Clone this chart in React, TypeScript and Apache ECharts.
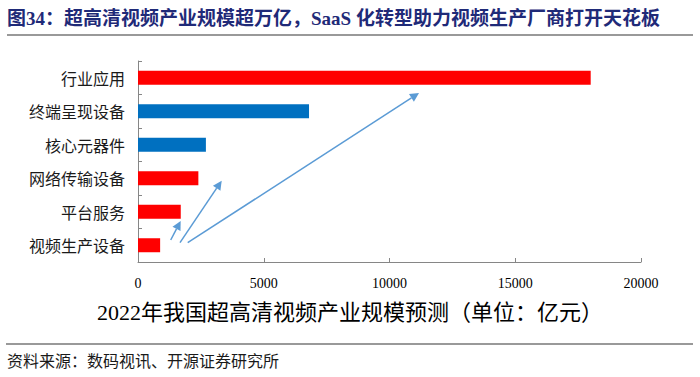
import React, { useEffect, useRef } from "react";
import * as echarts from "echarts";

const categories = ["视频生产设备", "平台服务", "网络传输设备", "核心元器件", "终端呈现设备", "行业应用"];
const values = [880, 1700, 2400, 2700, 6800, 18000];
const barColors = ["#FF0000", "#FF0000", "#FF0000", "#0070C0", "#0070C0", "#FF0000"];
const xMin = 0;
const xMax = 20000;
const xInterval = 5000;

const titleText = "图34：超高清视频产业规模超万亿，SaaS 化转型助力视频生产厂商打开天花板";
const axisNameText = "2022年我国超高清视频产业规模预测（单位：亿元）";
const sourceText = "资料来源：数码视讯、开源证券研究所";

const arrowColor = "#5B9BD5";

function arrow(x1: number, y1: number, x2: number, y2: number) {
  const dx = x2 - x1;
  const dy = y2 - y1;
  const len = Math.sqrt(dx * dx + dy * dy);
  const ux = dx / len;
  const uy = dy / len;
  const headLen = 9;
  const headHalf = 4.5;
  const bx = x2 - ux * headLen;
  const by = y2 - uy * headLen;
  const px = -uy;
  const py = ux;
  return [
    {
      type: "line",
      shape: { x1, y1, x2: bx, y2: by },
      style: { stroke: arrowColor, lineWidth: 1.5 },
      silent: true,
    },
    {
      type: "polygon",
      shape: {
        points: [
          [x2, y2],
          [bx + px * headHalf, by + py * headHalf],
          [bx - px * headHalf, by - py * headHalf],
        ],
      },
      style: { fill: arrowColor },
      silent: true,
    },
  ];
}

export default function App() {
  const ref = useRef<HTMLDivElement>(null);
  useEffect(() => {
    if (!ref.current) return;
    const chart = echarts.init(ref.current, null, { renderer: "svg" });
    const serifCJK = "'Liberation Serif', 'Times New Roman', 'Noto Sans CJK SC', serif";
    chart.setOption({
      animation: false,
      backgroundColor: "#FFFFFF",
      grid: { left: 138, right: 59, top: 61, bottom: 115, containLabel: false },
      xAxis: {
        type: "value",
        min: xMin,
        max: xMax,
        interval: xInterval,
        splitLine: { show: false },
        axisLine: { show: true, lineStyle: { color: "#868686", width: 1 } },
        axisTick: { show: true, inside: true, length: 4, lineStyle: { color: "#868686" } },
        axisLabel: {
          color: "#000",
          fontSize: 14,
          fontFamily: serifCJK,
          margin: 14,
          formatter: (v: number) => String(v),
        },
      },
      yAxis: {
        type: "category",
        data: categories,
        axisLine: { show: true, lineStyle: { color: "#868686", width: 1 } },
        axisTick: { show: true, inside: true, length: 4, lineStyle: { color: "#868686" } },
        axisLabel: { color: "#1a1a1a", fontSize: 16, fontFamily: "'Noto Sans CJK SC', sans-serif", margin: 13 },
      },
      series: [
        {
          type: "bar",
          data: values.map((v, i) => ({ value: v, itemStyle: { color: barColors[i] } })),
          barWidth: 14,
        },
      ],
      graphic: [
        {
          type: "text",
          left: 7,
          top: 9,
          style: {
            text: titleText,
            fill: "#1F2A78",
            font: `bold 19px ${serifCJK}`,
          },
        },
        {
          type: "line",
          shape: { x1: 7, y1: 35, x2: 693, y2: 35 },
          style: { stroke: "#999999", lineWidth: 2 },
        },
        {
          type: "text",
          left: "center",
          top: 301,
          style: {
            text: axisNameText,
            fill: "#000",
            font: `22px ${serifCJK}`,
          },
        },
        {
          type: "line",
          shape: { x1: 6, y1: 344, x2: 693, y2: 344 },
          style: { stroke: "#999999", lineWidth: 2 },
        },
        {
          type: "text",
          left: 7,
          top: 352,
          style: {
            text: sourceText,
            fill: "#1a1a1a",
            font: "16px 'Noto Sans CJK SC', sans-serif",
          },
        },
        ...arrow(170.7, 240, 180.7, 221),
        ...arrow(180, 242.7, 221.7, 180.7),
        ...arrow(187.7, 242.7, 419, 93),
      ],
    });
    return () => chart.dispose();
  }, []);
  return (
    <div
      ref={ref}
      style={{ position: "fixed", left: 0, top: 0, width: 700, height: 377, background: "#fff" }}
    />
  );
}
